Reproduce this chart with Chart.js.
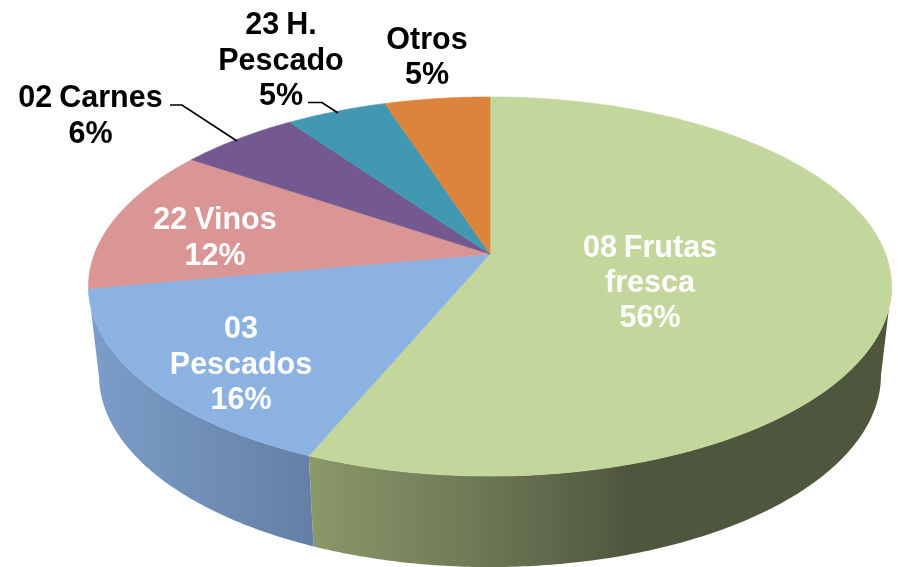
<!DOCTYPE html>
<html>
<head>
<meta charset="utf-8">
<style>html,body{margin:0;padding:0;background:#fff}canvas{display:block}</style>
<script src="https://cdn.jsdelivr.net/npm/chart.js@4"></script>
</head>
<body>
<canvas id="c" width="898" height="567"></canvas>
<script>
const categories = ['08 Frutas fresca','03 Pescados','22 Vinos','02 Carnes','23 H. Pescado','Otros'];
const values = [56.3,15.8,12.4,5.7,4.8,5];
const percentLabels = ['56%','16%','12%','6%','5%','5%'];
const labelLines = [['08 Frutas','fresca'],['03','Pescados'],['22 Vinos'],['02 Carnes'],['23 H.','Pescado'],['Otros']];
const colors = ['#c3d69b','#8cb2e1','#d99694','#735990','#4298b0','#dc843c'];

// Perspective of the tilted disc
const top3d = {cx:490, cy:254, a:395.6, b:184, k:0.1715};
const bot3d = {cx:490, cy:342.1, a:385.2, b:186.4, k:0.1715};
function proj(d,u,v){const w=1-d.k*v;return [d.cx+d.a*u/w,d.cy+d.b*v/w];}

const sideFills = {
  0:[[310,'#8b9869'],[480,'#6d7855'],[630,'#4f563e'],[890,'#4f563e']],
  1:[[92,'#7c9dc9'],[310,'#6480a6']]
};
const labelAnchors = [[650,248.5,'#fff'],[241,330,'#fff'],[215,221,'#fff'],[90.5,99,'#000'],[281,26,'#000'],[427,40.5,'#000']];
const leaders = {3:[[170,105],[182,105],[237,141]],4:[[308,102.5],[322,102.5],[338,113]]};

function arcPts(d,s,e){
  const n=Math.max(2,Math.ceil((e-s)/0.01)),p=[];
  for(let i=0;i<=n;i++){const t=s+(e-s)*i/n;p.push(proj(d,Math.cos(t),Math.sin(t)));}
  return p;
}
const disc3d = {
  id:'disc3d',
  beforeDatasetDraw(chart,args){
    const ctx=chart.ctx, arcs=chart.getDatasetMeta(args.index).data;
    const limitS=Math.asin(top3d.k), limitE=Math.PI-limitS;
    ctx.save();
    arcs.forEach((el,i)=>{
      if(!sideFills[i])return;
      const s=Math.max(el.startAngle,limitS), e=Math.min(el.endAngle,limitE);
      if(e<=s)return;
      const a=arcPts(top3d,s,e), b=arcPts(bot3d,s,e).reverse();
      const x0=sideFills[i][0][0],x1=sideFills[i][sideFills[i].length-1][0];
      const g=ctx.createLinearGradient(x0,0,x1,0);
      sideFills[i].forEach(st=>g.addColorStop((st[0]-x0)/(x1-x0),st[1]));
      ctx.beginPath();
      a.concat(b).forEach((p,j)=>j?ctx.lineTo(p[0],p[1]):ctx.moveTo(p[0],p[1]));
      ctx.closePath();
      ctx.fillStyle=g;ctx.fill();
    });
    arcs.forEach((el,i)=>{
      ctx.beginPath();
      ctx.moveTo(top3d.cx,top3d.cy);
      arcPts(top3d,el.startAngle,el.endAngle).forEach(p=>ctx.lineTo(p[0],p[1]));
      ctx.closePath();
      ctx.fillStyle=el.options.backgroundColor;
      ctx.strokeStyle=el.options.backgroundColor;
      ctx.lineWidth=0.6;
      ctx.fill();ctx.stroke();
    });
    ctx.restore();
    return false;
  },
  afterDatasetsDraw(chart){
    const ctx=chart.ctx;
    ctx.save();
    ctx.strokeStyle='#000';ctx.lineWidth=1.7;
    Object.values(leaders).forEach(l=>{
      ctx.beginPath();
      l.forEach((p,j)=>j?ctx.lineTo(p[0],p[1]):ctx.moveTo(p[0],p[1]));
      ctx.stroke();
    });
    ctx.font='bold 30.5px "Liberation Sans", Arial, sans-serif';
    ctx.wordSpacing='-1.5px';
    ctx.textAlign='center';ctx.textBaseline='middle';
    categories.forEach((c,i)=>{
      const lines=labelLines[i].concat(percentLabels[i]);
      const [x,y,col]=labelAnchors[i];
      ctx.fillStyle=col;
      lines.forEach((t,j)=>ctx.fillText(t,x,y+j*35.2));
    });
    ctx.restore();
  }
};
new Chart(document.getElementById('c'),{
  type:'pie',
  data:{labels:categories,datasets:[{data:values,backgroundColor:colors,borderWidth:0}]},
  options:{responsive:false,animation:false,plugins:{legend:{display:false},tooltip:{enabled:false}}},
  plugins:[disc3d]
});
</script>
</body>
</html>
